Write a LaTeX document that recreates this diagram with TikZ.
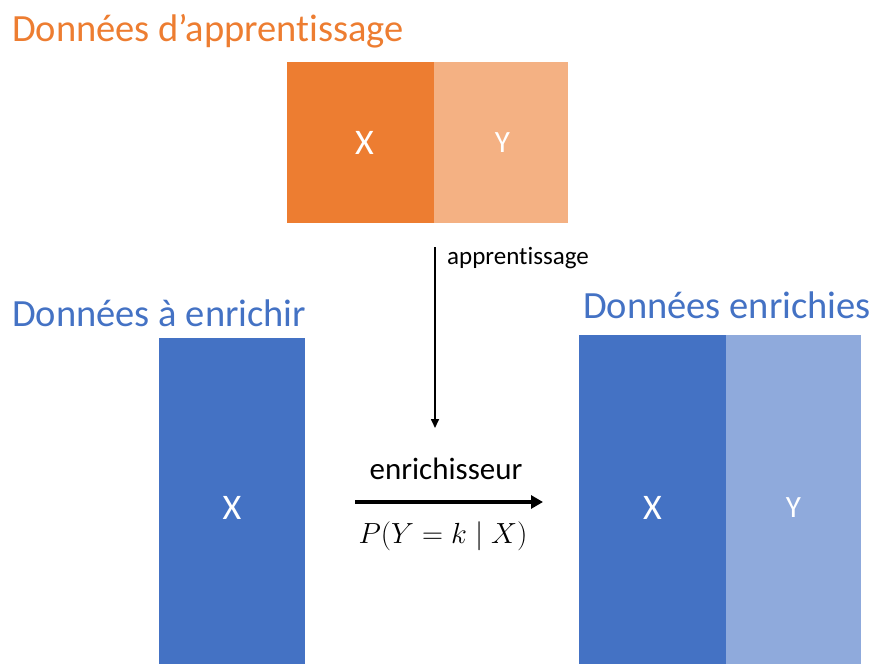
\documentclass[tikz,border=0pt]{standalone}
\usepackage{graphicx}
\usepackage{fontspec}
\setmainfont{Carlito}[RawFeature=-liga]
\usetikzlibrary{arrows.meta}
\definecolor{orangeA}{HTML}{ED7D31}
\definecolor{orangeB}{HTML}{F4B183}
\definecolor{blueA}{HTML}{4472C4}
\definecolor{blueB}{HTML}{8FAADC}
\tikzset{
  databox/.style={draw=none, inner sep=0pt, text=white, font=\fontsize{36}{40}\selectfont},
  ybox/.style={databox, font=\fontsize{31}{34}\selectfont},
  heading/.style={anchor=west, inner sep=0pt, font=\fontsize{38.5}{42}\selectfont},
  smalllabel/.style={inner sep=0pt, font=\fontsize{25}{28}\selectfont},
}
\begin{document}
\begin{tikzpicture}[x=1pt,y=-1pt]
\useasboundingbox (0,0) rectangle (873,664);
\clip (0,0) rectangle (873,664);
% top: training data
\node[heading, text=orangeA] (t1) at (12,31) {Données d’apprentissage};
\node[databox, fill=orangeA, minimum width=147pt, minimum height=161pt] (ox) at (360.5,142.5) {\hspace{8pt}X};
\node[ybox, fill=orangeB, minimum width=134pt, minimum height=161pt] (oy) at (501,142.5) {\hspace{3pt}Y};
% learning arrow
\coordinate (a1) at (435,247);
\coordinate (a2) at (435,428);
\draw[line width=1.6pt, -{Triangle[length=9pt,width=8pt]}] (a1) -- (a2);
\node[smalllabel, anchor=west] (lab1) at (447,258) {apprentissage};
% left: data to enrich
\node[heading, text=blueA] (t2) at (12,313) {Données à enrichir};
\node[databox, fill=blueA, minimum width=146pt, minimum height=340pt] (lx) at (232,508) {X};
% right: enriched data
\node[heading, text=blueA] (t3) at (583,305) {Données enrichies};
\node[databox, fill=blueA, minimum width=147pt, minimum height=346pt] (rx) at (652.5,508) {X};
\node[ybox, fill=blueB, minimum width=135pt, minimum height=346pt] (ry) at (793.5,508) {Y};
% enrichment arrow
\coordinate (b1) at (355,502);
\coordinate (b2) at (543,502);
\draw[line width=3.5pt, -{Triangle[length=12pt,width=13pt]}] (b1) -- (b2);
\node[smalllabel, font=\fontsize{24.88}{28}\selectfont] (lab2) at (446,469) {\scalebox{1.245}{enrichisseur}};
\node[smalllabel, font=\fontsize{24.88}{28}\selectfont] (lab3) at (443,536) {\scalebox{1.17}{$P(Y = k \mid X)$}};
\end{tikzpicture}
\end{document}
